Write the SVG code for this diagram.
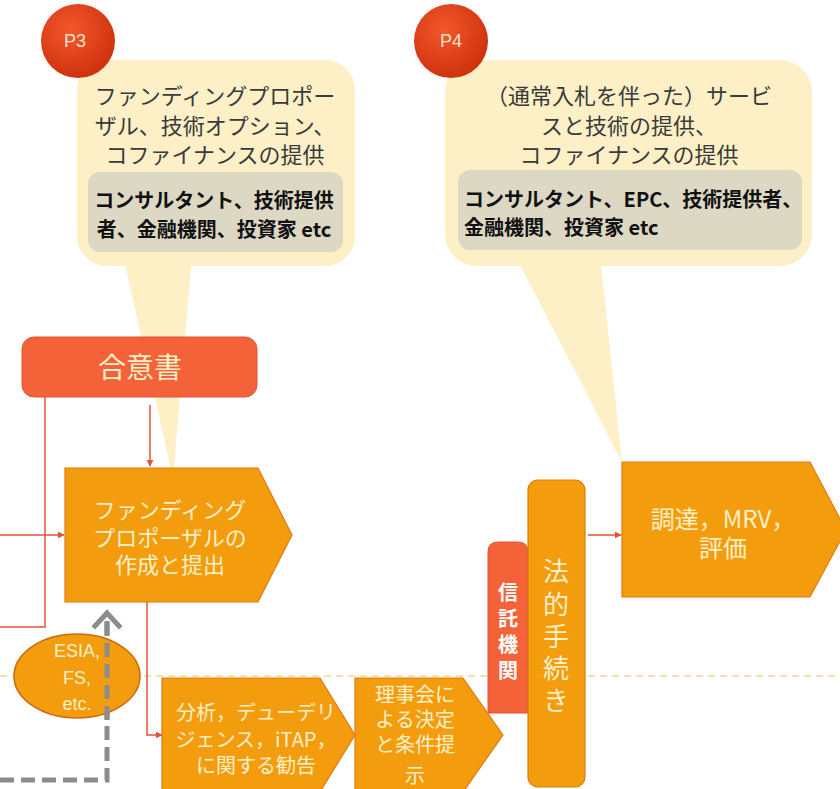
<svg xmlns="http://www.w3.org/2000/svg" width="840" height="789" viewBox="0 0 840 789">
<defs>
<style>
.jp{font-family:"Noto Sans CJK JP","Noto Sans",sans-serif;}
.bub{fill:#fdefc6;}
.gbox{fill:#dcd8c4;}
.btxt{fill:#3a3a3a;font-size:22px;text-anchor:middle;}
.gtxt{fill:#111;font-size:20px;font-weight:bold;}
.org{fill:#f39c0e;stroke:#e07a10;stroke-width:1.2;}
.red{fill:#f4623a;stroke:#e0533a;stroke-width:1;}
.wt{fill:#fdf0c8;text-anchor:middle;}
.conn{fill:none;stroke:#e0533a;stroke-width:1.5;}
</style>
<radialGradient id="rg" cx="0.4" cy="0.35" r="0.7">
<stop offset="0" stop-color="#f2582c"/>
<stop offset="1" stop-color="#cc300c"/>
</radialGradient>
<marker id="ah" viewBox="0 0 10 10" refX="9" refY="5" markerWidth="7" markerHeight="7" orient="auto" markerUnits="userSpaceOnUse">
<path d="M0,0 L10,5 L0,10 z" fill="#e0533a"/>
</marker>
</defs>
<rect width="840" height="789" fill="#ffffff"/>

<!-- dashed divider -->
<line x1="0" y1="676" x2="840" y2="676" stroke="#f5d88e" stroke-width="1.5" stroke-dasharray="7,5"/>

<!-- P3 callout -->
<g id="callout-p3">
<rect class="bub" x="77" y="60" width="278" height="206" rx="30"/>
<polygon class="bub" points="123,255 192,255 173,478"/>
<rect class="gbox" x="88" y="172" width="255" height="80" rx="12"/>
<text class="jp btxt" x="215" y="104">ファンディングプロポー</text>
<text class="jp btxt" x="215" y="134">ザル、技術オプション、</text>
<text class="jp btxt" x="215" y="163">コファイナンスの提供</text>
<text class="jp gtxt" x="214" y="208" text-anchor="middle">コンサルタント、技術提供</text>
<text class="jp gtxt" x="214" y="237" text-anchor="middle">者、金融機関、投資家 etc</text>
</g>
<g id="badge-p3">
<circle cx="78" cy="41" r="37" fill="url(#rg)"/>
<text x="75" y="47" font-family="Liberation Sans, sans-serif" font-size="18" fill="#fbe3c8" text-anchor="middle">P3</text>
</g>

<!-- P4 callout -->
<g id="callout-p4">
<rect class="bub" x="445" y="60" width="367" height="206" rx="32"/>
<polygon class="bub" points="515,255 600,255 622,462"/>
<rect class="gbox" x="458" y="170" width="344" height="80" rx="12"/>
<text class="jp btxt" x="629" y="104">（通常入札を伴った）サービ</text>
<text class="jp btxt" x="629" y="134">スと技術の提供、</text>
<text class="jp btxt" x="629" y="163">コファイナンスの提供</text>
<text class="jp gtxt" x="464" y="207" font-size="19">コンサルタント、EPC、技術提供者、</text>
<text class="jp gtxt" x="464" y="235" font-size="19">金融機関、投資家 etc</text>
</g>
<g id="badge-p4">
<circle cx="451" cy="41" r="37" fill="url(#rg)"/>
<text x="451" y="47" font-family="Liberation Sans, sans-serif" font-size="18" fill="#fbe3c8" text-anchor="middle">P4</text>
</g>

<!-- connectors -->
<g id="connectors">
<path class="conn" d="M45,397 L45,627 L0,627"/>
<path class="conn" d="M0,535 L64,535" marker-end="url(#ah)"/>
<path class="conn" d="M150,405 L150,466" marker-end="url(#ah)"/>
<path class="conn" d="M147,602 L147,735 L162,735" marker-end="url(#ah)"/>
<path class="conn" d="M588,535 L621,535" marker-end="url(#ah)"/>
<path d="M0,780 L107,780 L107,614" fill="none" stroke="#8c8c8c" stroke-width="5" stroke-dasharray="14,7"/>
<path d="M95,626 L107,613 L119,626" fill="none" stroke="#8c8c8c" stroke-width="5" stroke-linecap="square"/>
</g>

<!-- 合意書 -->
<g id="node-agreement">
<rect class="red" x="22" y="337" width="235" height="60" rx="12"/>
<text class="jp wt" x="140" y="378" font-size="28" fill="#fff">合意書</text>
</g>

<!-- funding proposal -->
<g id="node-funding">
<polygon class="org" points="65,468 258,468 292,535 258,602 65,602"/>
<text class="jp wt" x="170" y="518" font-size="22">ファンディング</text>
<text class="jp wt" x="170" y="546" font-size="22">プロポーザルの</text>
<text class="jp wt" x="170" y="573" font-size="22">作成と提出</text>
</g>

<!-- ESIA ellipse -->
<g id="node-esia">
<ellipse cx="77" cy="676" rx="63" ry="42" fill="#f39c0e" stroke="#c86a10" stroke-width="1.5"/>
<text class="wt" x="77" y="657" font-family="Liberation Sans, sans-serif" font-size="18">ESIA,</text>
<text class="wt" x="77" y="684" font-family="Liberation Sans, sans-serif" font-size="18">FS,</text>
<text class="wt" x="77" y="710" font-family="Liberation Sans, sans-serif" font-size="18">etc.</text>
</g>
<!-- redraw dashed arrow over ellipse -->
<g id="node-esia-arrow">
<path d="M107,720 L107,614" fill="none" stroke="#8c8c8c" stroke-width="5" stroke-dasharray="14,7" stroke-dashoffset="0"/>
</g>

<!-- analysis -->
<g id="node-analysis">
<polygon class="org" points="162,678 320,678 355,735 320,792 162,792"/>
<text class="jp wt" x="256" y="720" font-size="20">分析，デューデリ</text>
<text class="jp wt" x="256" y="747" font-size="20">ジェンス，iTAP，</text>
<text class="jp wt" x="256" y="773" font-size="20">に関する勧告</text>
</g>

<!-- board -->
<g id="node-board">
<polygon class="org" points="355,678 463,678 503,735 463,792 355,792"/>
<text class="jp wt" x="415" y="702" font-size="20">理事会に</text>
<text class="jp wt" x="415" y="727" font-size="20">よる決定</text>
<text class="jp wt" x="415" y="752" font-size="20">と条件提</text>
<text class="jp wt" x="415" y="783" font-size="20">示</text>
</g>

<!-- trust -->
<g id="node-trust">
<path class="red" d="M488,552 Q488,542 498,542 L518,542 Q528,542 528,552 L528,713 L488,713 Z"/>
<text class="jp" x="508" y="600" font-size="20" font-weight="bold" fill="#fff" text-anchor="middle">信</text>
<text class="jp" x="508" y="626" font-size="20" font-weight="bold" fill="#fff" text-anchor="middle">託</text>
<text class="jp" x="508" y="652" font-size="20" font-weight="bold" fill="#fff" text-anchor="middle">機</text>
<text class="jp" x="508" y="678" font-size="20" font-weight="bold" fill="#fff" text-anchor="middle">関</text>
</g>

<!-- legal -->
<g id="node-legal">
<rect class="org" x="528" y="480" width="57" height="307" rx="10"/>
<text class="jp wt" x="556" y="581" font-size="26">法</text>
<text class="jp wt" x="556" y="614" font-size="26">的</text>
<text class="jp wt" x="556" y="646" font-size="26">手</text>
<text class="jp wt" x="556" y="678" font-size="26">続</text>
<text class="jp wt" x="556" y="710" font-size="26">き</text>
</g>

<!-- procurement -->
<g id="node-procurement">
<polygon class="org" points="622,462 810,462 846,530 810,597 622,597"/>
<text class="jp wt" x="723" y="528" font-size="24">調達，MRV，</text>
<text class="jp wt" x="723" y="557" font-size="24">評価</text>
</g>
</svg>
